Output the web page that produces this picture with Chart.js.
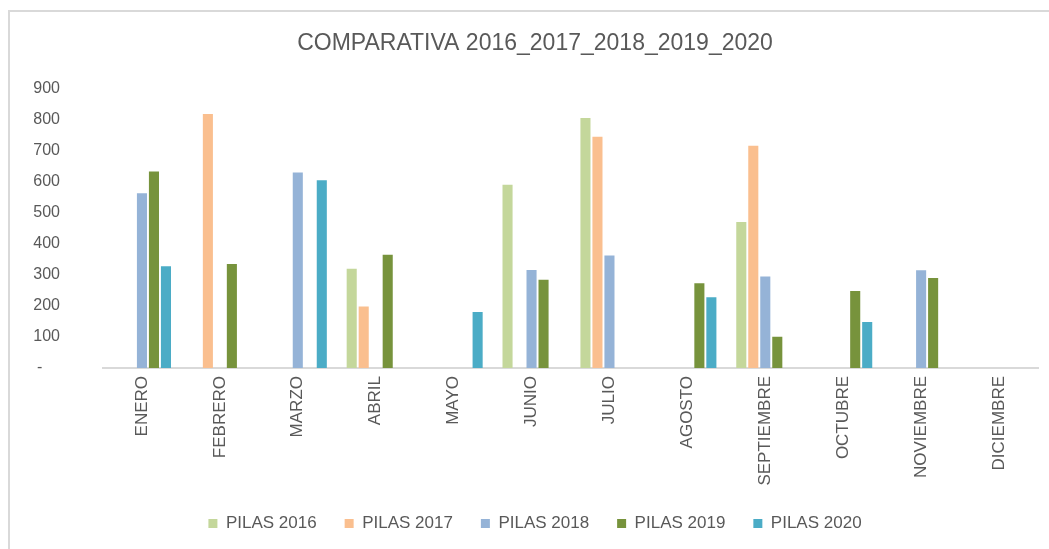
<!DOCTYPE html>
<html>
<head>
<meta charset="utf-8">
<script src="https://cdn.jsdelivr.net/npm/chart.js@4/dist/chart.umd.min.js"></script>
<style>
  html, body { margin: 0; padding: 0; background: #fff; }
  #wrap { position: relative; width: 1049px; height: 549px; overflow: hidden; }
  #frame {
    position: absolute; left: 8px; top: 10px; width: 1100px; height: 600px;
    border-left: 2px solid #d9d9d9; border-top: 2px solid #d9d9d9;
  }
  canvas { position: absolute; left: 0; top: 0; }
</style>
</head>
<body>
<div id="wrap">
  <div id="frame"></div>
  <canvas id="chartPilas" width="1049" height="549"></canvas>
</div>
<script>
const meses = [
  'ENERO', 'FEBRERO', 'MARZO', 'ABRIL', 'MAYO', 'JUNIO',
  'JULIO', 'AGOSTO', 'SEPTIEMBRE', 'OCTUBRE', 'NOVIEMBRE', 'DICIEMBRE'
];

const pilas2016 = [null, null, null, 320, null, 590, 805, null, 470, null, null, null];
const pilas2017 = [null, 818, null, 198, null, null, 745, null, 716, null, null, null];
const pilas2018 = [563, null, 630, null, null, 316, 362, null, 295, null, 315, null];
const pilas2019 = [633, 335, null, 365, null, 284, null, 273, 101, 248, 290, null];
const pilas2020 = [328, null, 605, null, 180, null, null, 228, null, 148, null, null];

const yTicks = [0, 100, 200, 300, 400, 500, 600, 700, 800, 900];

const gris = '#595959';
const fuente = "'Liberation Sans', Arial, sans-serif";

const ctx =
  document
    .getElementById('chartPilas')
    .getContext('2d');

function serie(label, data, color) {
  return {
    label: label,
    data: data,
    backgroundColor: color,
    borderWidth: 0,
    categoryPercentage: 0.77,
    barPercentage: 0.84
  };
}

const chart = new Chart(ctx, {
  type: 'bar',
  data: {
    labels: meses,
    datasets: [
      serie('PILAS 2016', pilas2016, '#C4D79B'),
      serie('PILAS 2017', pilas2017, '#FABF8F'),
      serie('PILAS 2018', pilas2018, '#95B3D7'),
      serie('PILAS 2019', pilas2019, '#77933C'),
      serie('PILAS 2020', pilas2020, '#4BACC6')
    ]
  },
  options: {
    responsive: false,
    animation: false,
    layout: {
      // title and legend sit centred on the chart frame, not the canvas
      padding: { top: 0, left: 32, right: 11, bottom: 7 }
    },
    plugins: {
      title: {
        display: true,
        text: 'COMPARATIVA 2016_2017_2018_2019_2020',
        color: gris,
        font: { family: fuente, size: 23, weight: 'normal' },
        padding: { top: 30, bottom: 31 }
      },
      legend: {
        display: true,
        position: 'bottom',
        labels: {
          color: gris,
          font: { family: fuente, size: 17 },
          boxWidth: 9,
          boxHeight: 9,
          padding: 28
        }
      },
      tooltip: { enabled: false }
    },
    scales: {
      x: {
        grid: { display: false, drawTicks: false },
        border: { display: true, color: '#d9d9d9', width: 2 },
        ticks: {
          color: gris,
          font: { family: fuente, size: 17 },
          minRotation: 90,
          maxRotation: 90,
          padding: 8,
          autoSkip: false
        },
        afterFit: scale => { scale.height = 119; }
      },
      y: {
        min: 0,
        max: 900,
        afterBuildTicks: scale => {
          scale.ticks = yTicks.map(v => ({ value: v }));
        },
        grid: { display: false, drawTicks: false },
        border: { display: false },
        ticks: {
          color: gris,
          font: { family: fuente, size: 16 },
          padding: 43,
          callback: v => v === 0 ? '-    ' : v
        },
        afterFit: scale => { scale.width = 71; }
      }
    }
  }
});
</script>
</body>
</html>
